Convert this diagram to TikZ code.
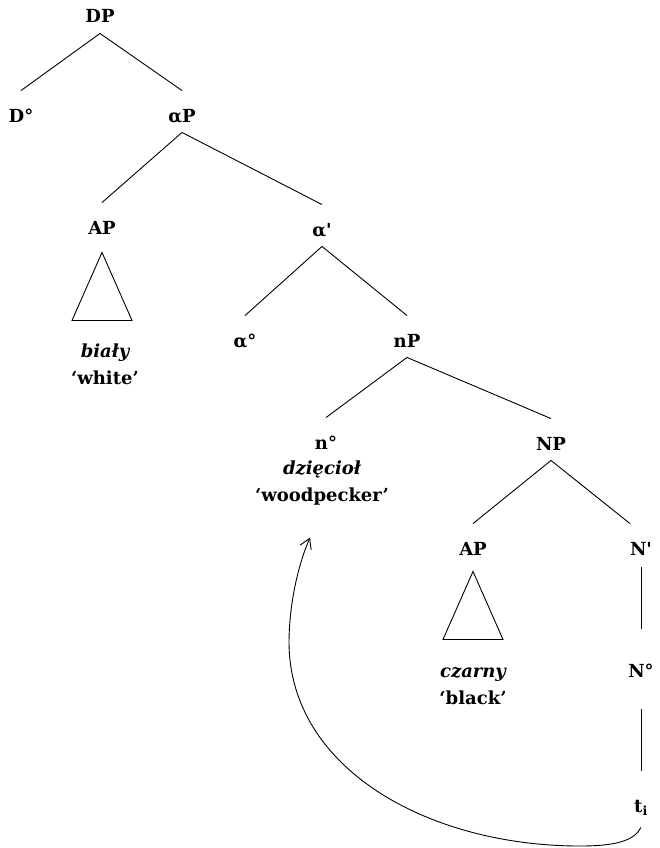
\documentclass[tikz,border=0pt]{standalone}
\usepackage{fontspec}
\setmainfont{DejaVu Serif}
\usetikzlibrary{arrows.meta}

\tikzset{
	lbl/.style={inner sep=2pt, text height=12pt, text depth=3pt, anchor=base},
	gloss/.style={align=center, inner sep=2pt, anchor=north},
}

\begin{document}
\begin{tikzpicture}[x=1pt, y=-1pt, line width=0.9pt,
	every node/.style={font=\fontsize{18}{27}\selectfont\bfseries}]
	
	\useasboundingbox (0,0) rectangle (659,848);
	
	% labels of the tree
	\node [lbl] (dp)        at (100,23)  {DP};
	\node [lbl] (dhead)     at (21,122)  {D°};
	\node [lbl] (alphap)    at (182,122) {αP};
	\node [lbl] (ap1)       at (102,234) {AP};
	\node [lbl] (alphabar)  at (322,236) {α\textquotesingle};
	\node [lbl] (alphahead) at (245,347) {α°};
	\node [lbl] (np)        at (407,347) {nP};
	\node [lbl] (nhead)     at (326,449) {n°};
	\node [lbl] (bignp)     at (551,450) {NP};
	\node [lbl] (ap2)       at (473,555) {AP};
	\node [lbl] (nbar)      at (641,555) {N\textquotesingle};
	\node [lbl] (bign)      at (641,677) {N°};
	\node [lbl] (trace)     at (641,812) {t\textsubscript{i}};
	
	% words and glosses
	\node [gloss] (bialy)  at (105,336) {\strut\itshape biały\\‘white’};
	\node [gloss] (nword)  at (322,453) {\strut\itshape dzięcioł\\‘woodpecker’};
	\node [gloss] (czarny) at (473,656) {\strut\itshape czarny\\‘black’};
	
	% branches
	\foreach \a/\b in {dp/dhead, dp/alphap, alphap/ap1, alphap/alphabar,
		alphabar/alphahead, alphabar/np, np/nhead, np/bignp, bignp/ap2}
		\draw ([yshift=-5pt]\a.south) -- ([yshift=17pt]\b.north);
	\draw ([yshift=-5pt]bignp.south) -- ([xshift=-11pt,yshift=17pt]nbar.north);
	\draw ([yshift=-7pt]nbar.south) -- ([yshift=34pt]bign.north);
	\draw ([yshift=-27pt]bign.south) -- ([yshift=27pt]trace.north);
	
	% roofs
	\draw ([yshift=-13pt]ap1.south) -- ++(-30,68) -- ++(60,0) -- cycle;
	\draw ([yshift=-11pt]ap2.south) -- ++(-30,68) -- ++(60,0) -- cycle;
	
	% movement
	\draw [-{Straight Barb[length=10pt,width=12pt]}] ([yshift=-10pt]trace.south)
		.. controls (634,841) and (615,846) .. (580,846)
		.. controls (430,846) and (290,770) .. (289,643)
		.. controls (289,605) and (298,565) .. ([xshift=-12pt,yshift=-30pt]nword.south);
	
\end{tikzpicture}
\end{document}
